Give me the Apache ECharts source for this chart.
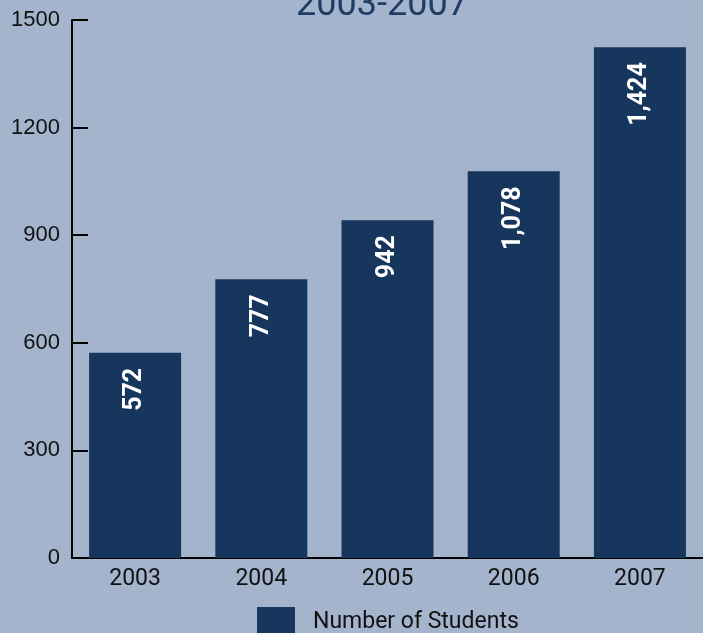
<!DOCTYPE html>
<html><head><meta charset="utf-8">
<script src="https://cdn.jsdelivr.net/npm/echarts@6/dist/echarts.min.js"></script>
<style>html,body{margin:0;padding:0;background:#a3b4cc;}#c{width:703px;height:633px;}</style>
</head><body><div id="c"></div>
<script>
const categories = ['2003','2004','2005','2006','2007'];
const students = [572, 777, 942, 1078, 1424];
const yTicks = [0, 300, 600, 900, 1200, 1500];
const seriesName = 'Number of Students';
const titleText = '2003-2007';

const chart = echarts.init(document.getElementById('c'));
chart.setOption({
  backgroundColor: '#a3b4cc',
  animation: false,
  title: {
    text: titleText, left: 377, textAlign: 'center', top: -17,
    textStyle: {fontFamily: 'Roboto', fontWeight: 'normal', fontSize: 36, color: '#1f3d66'}
  },
  legend: {
    data: [seriesName], left: 257, top: 607, padding: 0, itemWidth: 38, itemHeight: 30,
    icon: 'rect',
    textStyle: {fontFamily: 'Roboto', fontSize: 23, color: '#111', padding: [0,0,0,13]}
  },
  grid: {left: 72, right: -3, top: 20, bottom: 75, containLabel: false},
  xAxis: {
    type: 'category', data: categories,
    axisLine: {lineStyle: {color: '#000', width: 2}},
    axisTick: {inside: true, length: 9, lineStyle: {color: '#000', width: 2}},
    axisLabel: {fontFamily: 'Roboto', fontSize: 23, color: '#111', margin: 10}
  },
  yAxis: {
    type: 'value', min: yTicks[0], max: yTicks[yTicks.length-1], interval: 300,
    axisLine: {show: true, lineStyle: {color: '#000', width: 2}},
    axisTick: {show: true, inside: true, length: 16, lineStyle: {color: '#000', width: 2}},
    splitLine: {show: false},
    axisLabel: {fontFamily: 'Liberation Sans, Arial', fontSize: 22, color: '#111', margin: 12,
      formatter: v => String(v)}
  },
  series: [{
    name: seriesName, type: 'bar', data: students, barWidth: 92,
    itemStyle: {color: '#17365d'},
    label: {
      show: true, position: 'insideTop', rotate: 90, align: 'right', verticalAlign: 'middle',
      distance: 15,
      formatter: p => p.value.toLocaleString('en-US'),
      fontFamily: 'Roboto', fontWeight: 'bold', fontSize: 25, color: '#fff'
    }
  }]
});
</script></body></html>
